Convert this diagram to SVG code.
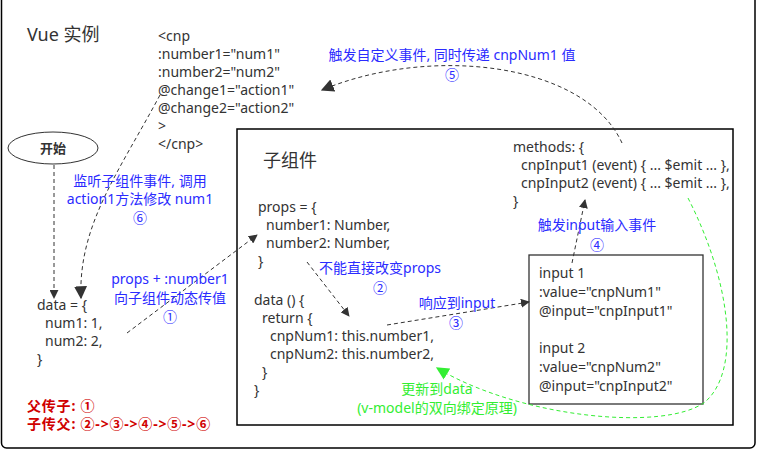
<svg xmlns="http://www.w3.org/2000/svg" width="757" height="450" viewBox="0 0 757 450">
<defs>
<style>
.code{font-family:"Noto Sans","Noto Sans CJK SC",sans-serif;font-size:14px;fill:#333}
.title{font-family:"Noto Sans","Noto Sans CJK SC",sans-serif;font-size:18px;fill:#333}
.blue{font-family:"Noto Sans","Noto Sans CJK SC",sans-serif;font-size:14px;fill:#2b2bff;text-anchor:middle}
.green{font-family:"Noto Sans","Noto Sans CJK SC",sans-serif;font-size:14px;fill:#33ee33;text-anchor:middle}
.red{font-family:"Noto Sans","Noto Sans CJK SC",sans-serif;font-size:14px;font-weight:bold;fill:#d00000;letter-spacing:0.8px}
.dash{fill:none;stroke:#333;stroke-width:1;stroke-dasharray:4 3}
.gdash{fill:none;stroke:#33ee33;stroke-width:1;stroke-dasharray:4 3}
.box{fill:none;stroke:#000;stroke-width:1.5}
</style>
<marker id="ah" viewBox="0 0 10 10" refX="9" refY="5" markerWidth="9" markerHeight="9" markerUnits="userSpaceOnUse" orient="auto"><path d="M0,0 L10,5 L0,10 z" fill="#333"/></marker>
<marker id="ahL" viewBox="0 0 10 10" refX="9" refY="5" markerWidth="13" markerHeight="13" markerUnits="userSpaceOnUse" orient="auto"><path d="M0,0 L10,5 L0,10 z" fill="#333"/></marker>
<marker id="ahG" viewBox="0 0 10 10" refX="9" refY="5" markerWidth="13" markerHeight="13" markerUnits="userSpaceOnUse" orient="auto"><path d="M0,0 L10,5 L0,10 z" fill="#33ee33"/></marker>
</defs>
<rect x="1.5" y="-8" width="753.5" height="456" rx="5" fill="#fff" stroke="#000" stroke-width="1.5"/>

<g id="vue-instance">
<text class="title" x="27" y="41">Vue 实例</text>
</g>

<g id="cnp-tag">
<text class="code" x="158" y="41">&lt;cnp</text>
<text class="code" x="158" y="59">:number1="num1"</text>
<text class="code" x="158" y="77">:number2="num2"</text>
<text class="code" x="158" y="95">@change1="action1"</text>
<text class="code" x="158" y="113">@change2="action2"</text>
<text class="code" x="158" y="131">&gt;</text>
<text class="code" x="158" y="149">&lt;/cnp&gt;</text>
</g>

<g id="start">
<ellipse cx="53" cy="148" rx="45" ry="16" fill="#fff" stroke="#333" stroke-width="1"/>
<text x="53" y="153" text-anchor="middle" style="font-family:'Noto Sans CJK SC',sans-serif;font-size:13px;font-weight:bold;fill:#333">开始</text>
</g>

<g id="parent-data">
<text class="code" x="37" y="310">data = {</text>
<text class="code" x="45" y="328">num1: 1,</text>
<text class="code" x="45" y="346">num2: 2,</text>
<text class="code" x="37" y="364">}</text>
</g>

<g id="legend">
<text class="red" x="27" y="411">父传子: ①</text>
<text class="red" x="27" y="429">子传父: ②-&gt;③-&gt;④-&gt;⑤-&gt;⑥</text>
</g>

<g id="child-component">
<rect class="box" x="237" y="129" width="496" height="296"/>
<text class="title" x="263" y="167">子组件</text>
</g>

<g id="props">
<text class="code" x="258" y="212">props = {</text>
<text class="code" x="266" y="230">number1: Number,</text>
<text class="code" x="266" y="248">number2: Number,</text>
<text class="code" x="258" y="266">}</text>
</g>

<g id="child-data">
<text class="code" x="254" y="305">data () {</text>
<text class="code" x="262" y="323">return {</text>
<text class="code" x="270" y="341">cnpNum1: this.number1,</text>
<text class="code" x="270" y="359">cnpNum2: this.number2,</text>
<text class="code" x="262" y="377">}</text>
<text class="code" x="254" y="395">}</text>
</g>

<g id="methods">
<text class="code" x="513" y="152">methods: {</text>
<text class="code" x="521" y="170">cnpInput1 (event) { ... $emit ... },</text>
<text class="code" x="521" y="188">cnpInput2 (event) { ... $emit ... },</text>
<text class="code" x="513" y="206">}</text>
</g>

<g id="inputs">
<rect x="529" y="255" width="174" height="149" fill="#fff" stroke="#333" stroke-width="1.3"/>
<text class="code" x="539" y="278">input 1</text>
<text class="code" x="539" y="297">:value="cnpNum1"</text>
<text class="code" x="539" y="316">@input="cnpInput1"</text>
<text class="code" x="539" y="353">input 2</text>
<text class="code" x="539" y="372">:value="cnpNum2"</text>
<text class="code" x="539" y="391">@input="cnpInput2"</text>
</g>

<g id="connectors">
<path class="dash" d="M54,165 L54,298" marker-end="url(#ah)"/>
<path class="dash" d="M160,95 C120,170 78,225 81,298" marker-end="url(#ahL)"/>
<path class="dash" d="M127,333 L257,235" marker-end="url(#ah)"/>
<path class="dash" d="M307,262 L349,316" marker-end="url(#ah)"/>
<path class="dash" d="M387,325 L529,302" marker-end="url(#ah)"/>
<path class="dash" d="M572,263 L585,200" marker-end="url(#ah)"/>
<path class="dash" d="M622,143 C585,62 430,45 322,90" marker-end="url(#ahL)"/>
<path class="gdash" d="M688,198 C730,280 742,370 705,402 C665,432 520,418 437,368" marker-end="url(#ahG)"/>
</g>

<g id="labels">
<text class="blue" x="140" y="186">监听子组件事件, 调用</text>
<text class="blue" x="140" y="204">action1方法修改 num1</text>
<text class="blue" x="140" y="223">⑥</text>
<text class="blue" x="170" y="284">props + :number1</text>
<text class="blue" x="170" y="303">向子组件动态传值</text>
<text class="blue" x="170" y="322">①</text>
<text class="blue" x="380" y="273">不能直接改变props</text>
<text class="blue" x="380" y="293">②</text>
<text class="blue" x="457" y="308">响应到input</text>
<text class="blue" x="456" y="328">③</text>
<text class="blue" x="597" y="230">触发input输入事件</text>
<text class="blue" x="597" y="250">④</text>
<text class="blue" x="452" y="60">触发自定义事件, 同时传递 cnpNum1 值</text>
<text class="blue" x="452" y="80">⑤</text>
<text class="green" x="437" y="394">更新到data</text>
<text class="green" x="437" y="413">(v-model的双向绑定原理)</text>
</g>
</svg>
